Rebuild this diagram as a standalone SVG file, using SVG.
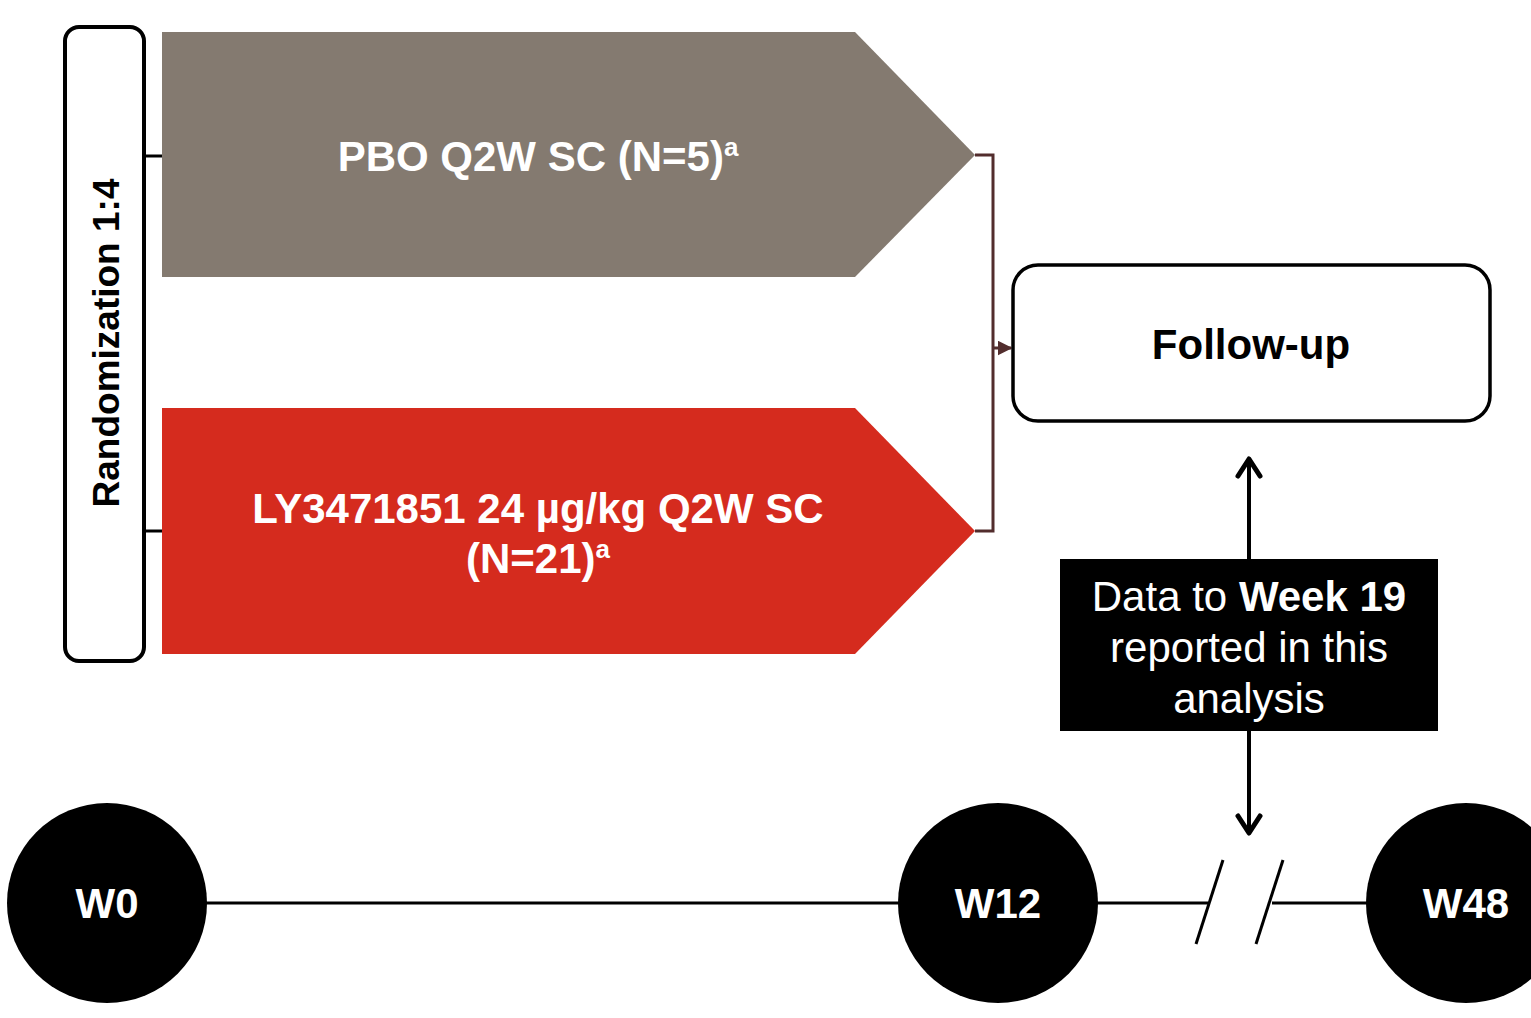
<svg xmlns="http://www.w3.org/2000/svg" width="1531" height="1018" viewBox="0 0 1531 1018">
<style>
.b{font-family:"Liberation Sans",Arial,sans-serif;font-weight:bold}
.n{font-family:"Liberation Sans",Arial,sans-serif}
.ln{stroke:#000;stroke-width:3;fill:none}
.circ{fill:#000}
</style>
<defs>
<marker id="tri" viewBox="0 0 10 10" refX="9" refY="5" markerWidth="5" markerHeight="5" orient="auto" markerUnits="strokeWidth">
<path d="M0,0 L10,5 L0,10 Z" fill="#522D2D"/>
</marker>
</defs>
<rect width="1531" height="1018" fill="#fff"/>
<g id="connectors">
<line class="ln" x1="146" y1="156" x2="162" y2="156"/>
<line class="ln" x1="146" y1="531" x2="162" y2="531"/>
<polyline points="975,155 993,155 993,531 975,531" fill="none" stroke="#522D2D" stroke-width="3"/>
<line x1="993" y1="348" x2="1011" y2="348" stroke="#522D2D" stroke-width="3" marker-end="url(#tri)"/>
<line x1="1249" y1="460" x2="1249" y2="831" stroke="#000" stroke-width="4"/>
<polyline points="1238,476 1249,459 1260,476" fill="none" stroke="#000" stroke-width="5" stroke-linecap="round" stroke-linejoin="round"/>
<polyline points="1238,816 1249,833 1260,816" fill="none" stroke="#000" stroke-width="5" stroke-linecap="round" stroke-linejoin="round"/>
<line class="ln" x1="205" y1="903" x2="900" y2="903"/>
<line class="ln" x1="1096" y1="903" x2="1208" y2="903"/>
<line class="ln" x1="1272" y1="903" x2="1368" y2="903"/>
<line class="ln" x1="1223" y1="860" x2="1196" y2="944"/>
<line class="ln" x1="1283" y1="860" x2="1256" y2="944"/>
</g>
<g id="randomization">
<rect x="65" y="27" width="79" height="634" rx="14" fill="#fff" stroke="#000" stroke-width="4"/>
<text class="b" font-size="37" text-anchor="middle" transform="translate(119,343) rotate(-90)">Randomization 1:4</text>
</g>
<g id="pbo">
<polygon points="162,32 855,32 975,155 855,277 162,277" fill="#847A70"/>
<text class="b" font-size="42" fill="#fff" x="538" y="171" text-anchor="middle">PBO Q2W SC (N=5)<tspan font-size="26" dy="-15">a</tspan></text>
</g>
<g id="ly">
<polygon points="162,408 855,408 975,531 855,654 162,654" fill="#D52B1E"/>
<text class="b" font-size="42" fill="#fff" x="538" y="523" text-anchor="middle">LY3471851 24 µg/kg Q2W SC</text>
<text class="b" font-size="42" fill="#fff" x="538" y="573" text-anchor="middle">(N=21)<tspan font-size="26" dy="-15">a</tspan></text>
</g>
<g id="followup">
<rect x="1013" y="265" width="477" height="156" rx="25" fill="#fff" stroke="#000" stroke-width="3.5"/>
<text class="b" font-size="42" x="1251" y="359" text-anchor="middle">Follow-up</text>
</g>
<g id="data">
<rect x="1060" y="559" width="378" height="172" fill="#000"/>
<text class="n" font-size="42" fill="#fff" x="1249" y="611" text-anchor="middle">Data to <tspan class="b">Week 19</tspan></text>
<text class="n" font-size="42" fill="#fff" x="1249" y="662" text-anchor="middle">reported in this</text>
<text class="n" font-size="42" fill="#fff" x="1249" y="713" text-anchor="middle">analysis</text>
</g>
<g id="w0">
<circle class="circ" cx="107" cy="903" r="100"/>
<text class="b" font-size="42" fill="#fff" x="107" y="918" text-anchor="middle">W0</text>
</g>
<g id="w12">
<circle class="circ" cx="998" cy="903" r="100"/>
<text class="b" font-size="42" fill="#fff" x="998" y="918" text-anchor="middle">W12</text>
</g>
<g id="w48">
<circle class="circ" cx="1466" cy="903" r="100"/>
<text class="b" font-size="42" fill="#fff" x="1466" y="918" text-anchor="middle">W48</text>
</g>
</svg>
